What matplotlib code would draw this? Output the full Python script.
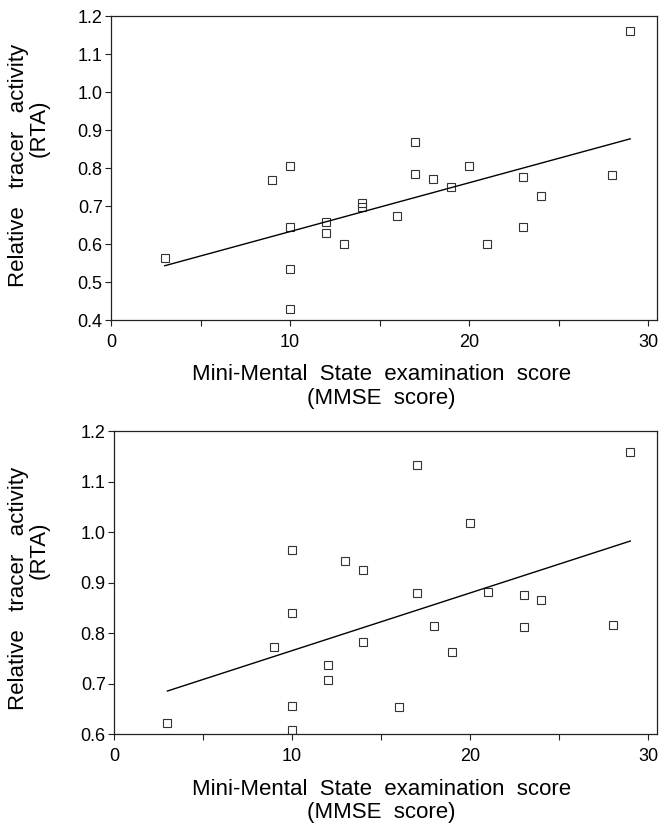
import numpy as np
import matplotlib
matplotlib.use("Agg")
import matplotlib.pyplot as plt

plt.rcParams['font.family'] = ['Liberation Sans', 'DejaVu Sans']

# MMSE score of each patient (same patients in both panels)
mmse = [3, 9, 10, 10, 10, 10, 12, 12, 13, 14, 14, 16, 17, 17, 18, 19, 20, 21, 23, 23, 24, 28, 29]

# Relative tracer activity, upper panel
rta_upper = [0.564, 0.768, 0.805, 0.645, 0.535, 0.429, 0.659, 0.628, 0.599, 0.709, 0.698,
             0.674, 0.868, 0.785, 0.771, 0.751, 0.805, 0.599, 0.777, 0.645, 0.726, 0.782, 1.160]

# Relative tracer activity, lower panel
rta_lower = [0.622, 0.773, 0.964, 0.839, 0.656, 0.609, 0.738, 0.707, 0.942, 0.925, 0.782,
             0.653, 1.132, 0.880, 0.814, 0.762, 1.019, 0.881, 0.875, 0.812, 0.866, 0.817, 1.159]

upper_yticks = [0.4, 0.5, 0.6, 0.7, 0.8, 0.9, 1.0, 1.1, 1.2]
lower_yticks = [0.6, 0.7, 0.8, 0.9, 1.0, 1.1, 1.2]
xticks_major = [0, 10, 20, 30]
xticks_minor = [5, 15, 25]


def panel(fig, rect, x, y, ylim, yticks, ylab_y, rta_y, xlab_y):
    ax = fig.add_axes(rect)
    x = np.array(x, dtype=float)
    y = np.array(y, dtype=float)
    ax.plot(x, y, linestyle='none', marker='s', markersize=6,
            markerfacecolor='none', markeredgecolor='#333333', markeredgewidth=0.8)
    # least squares line over the MMSE range
    coef = np.polyfit(x, y, 1)
    xs = np.array([x.min(), x.max()])
    ax.plot(xs, np.polyval(coef, xs), color='black', linewidth=1.0)

    ax.set_xlim(0, 30.5)
    ax.set_ylim(*ylim)
    ax.set_xticks(xticks_major)
    ax.set_xticks(xticks_minor, minor=True)
    ax.set_yticks(yticks)
    ax.set_yticklabels([f"{v:.1f}" for v in yticks])
    ax.tick_params(axis='both', which='both', direction='out', length=4,
                   width=0.8, labelsize=13, color='#222222')
    ax.tick_params(axis='x', pad=6)
    ax.tick_params(axis='y', pad=2)
    for s in ax.spines.values():
        s.set_linewidth(0.9)
        s.set_color('#222222')

    fig.text(0.028, ylab_y, "Relative   tracer   activity", rotation=90,
             ha='center', va='center', fontsize=16)
    fig.text(0.059, rta_y, "(RTA)", rotation=90,
             ha='center', va='center', fontsize=16)
    fig.text(0.577, xlab_y, "Mini-Mental  State  examination  score",
             ha='center', va='center', fontsize=16)
    fig.text(0.577, xlab_y - 0.028, "(MMSE  score)",
             ha='center', va='center', fontsize=16)
    return ax


fig = plt.figure(figsize=(6.61, 8.25), dpi=100)

panel(fig, [0.168, 0.612, 0.826, 0.3685], mmse, rta_upper, (0.4, 1.2),
      upper_yticks, 0.799, 0.845, 0.5455)
panel(fig, [0.1725, 0.110, 0.8215, 0.3675], mmse, rta_lower, (0.6, 1.2),
      lower_yticks, 0.287, 0.333, 0.0436)

fig.savefig("out.png", dpi=100, facecolor='white')
